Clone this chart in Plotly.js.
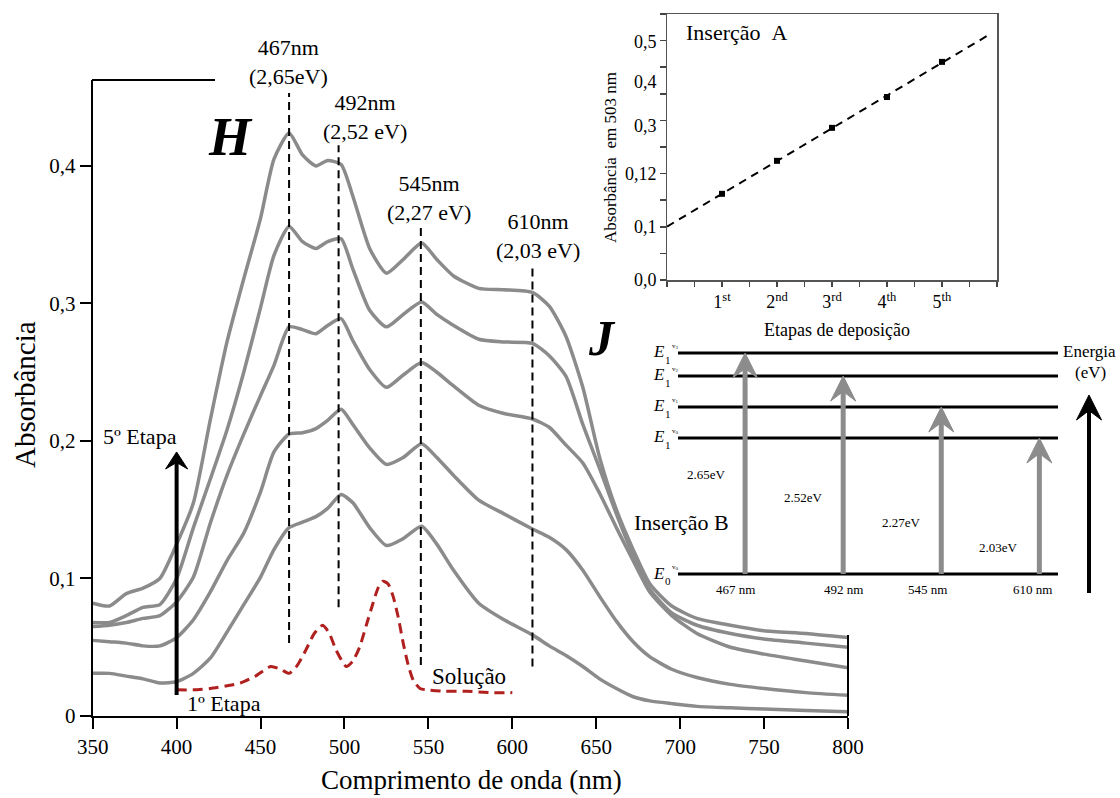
<!DOCTYPE html>
<html>
<head>
<meta charset="utf-8">
<script src="https://cdn.plot.ly/plotly-3.0.1.min.js"></script>
<style>html,body{margin:0;padding:0;background:#fff}#chart{width:1120px;height:798px}</style>
</head>
<body>
<div id="chart"></div>
<script>
// ---------------- DATA ----------------
const wavelength = [350,360,370,380,390,400,410,420,430,440,450,458,467,475,483,490,498,505,515,525,535,546,555,565,580,595,612,622,632,642,652,662,672,682,695,710,730,750,775,800];
const etapa5 = [.082,.080,.089,.093,.100,.125,.155,.215,.272,.318,.362,.405,.424,.408,.400,.404,.401,.378,.340,.322,.332,.344,.332,.320,.311,.310,.308,.298,.276,.239,.188,.150,.121,.096,.080,.071,.066,.062,.060,.057];
const etapa4 = [.068,.068,.073,.079,.081,.100,.137,.172,.208,.250,.297,.335,.356,.345,.340,.345,.347,.325,.295,.283,.292,.301,.292,.284,.274,.272,.271,.262,.247,.212,.180,.147,.117,.092,.075,.066,.060,.056,.053,.050];
const etapa3 = [.065,.066,.068,.071,.073,.083,.101,.140,.175,.205,.233,.255,.283,.281,.278,.284,.289,.273,.252,.239,.248,.257,.250,.240,.226,.220,.216,.210,.197,.184,.162,.137,.113,.090,.073,.060,.050,.045,.040,.035];
const etapa2 = [.055,.054,.053,.051,.051,.057,.070,.090,.113,.133,.163,.192,.205,.206,.209,.215,.223,.212,.195,.183,.188,.198,.188,.175,.157,.147,.136,.130,.121,.106,.087,.069,.054,.043,.034,.028,.023,.020,.017,.015];
const etapa1 = [.031,.031,.029,.027,.024,.025,.031,.042,.061,.081,.101,.121,.137,.141,.145,.151,.161,.155,.137,.124,.129,.138,.125,.106,.082,.070,.059,.051,.044,.036,.027,.020,.014,.011,.009,.007,.006,.005,.004,.003];

const solucaoWl  = [400,410,420,430,438,447,456,462,467,472,477,482,487,491,495,501,505,509,513,517,520,523,526,529,532,535,538,541,545,549,560,573,587,600];
const solucaoAbs = [.019,.019,.020,.022,.024,.029,.036,.034,.031,.037,.048,.060,.066,.060,.048,.036,.040,.050,.066,.082,.093,.098,.096,.087,.072,.053,.037,.026,.020,.019,.018,.018,.017,.017];

const peakNm     = [467, 496.5, 545.5, 612];
const peakTop    = [0.453, 0.415, 0.356, 0.327];
const peakBottom = [0.053, 0.079, 0.037, 0.036];
const peakLabels = ['467nm<br>(2,65eV)', '492nm<br>(2,52 eV)', '545nm<br>(2,27 eV)', '610nm<br>(2,03 eV)'];

const mainXTicks = [350,400,450,500,550,600,650,700,750,800];
const mainYTicks = [0, 0.1, 0.2, 0.3, 0.4];
const mainYTickText = ['0', '0,1', '0,2', '0,3', '0,4'];

// arrow 1ª -> 5ª etapa (x in nm, y in absorbance)
const etapaArrow = {x: 400, from: 0.0153, to: 0.192};

// Inserção A
const etapasA = [1, 2, 3, 4, 5];
const abs503  = [0.162, 0.224, 0.286, 0.344, 0.410];
const insetAXLabels = ['1<sup>st</sup>', '2<sup>nd</sup>', '3<sup>rd</sup>', '4<sup>th</sup>', '5<sup>th</sup>'];
const insetAYLabels = ['0,0', '0,1', '0,12', '0,3', '0,4', '0,5'];
const insetAYLabelAt = [0, 0.1, 0.2, 0.29, 0.372, 0.447];
const fitExtent = [0, 5.82];

// Inserção B (diagrama de energia)
const levelSub = ['0', '1', '1', '1', '1'];
const levelSup = ['0', '0', '1', '2', '3'];
const levelHeight = [0, 136, 167, 198, 221];
const transSlot  = [1, 2, 3, 4];
const transLevel = [4, 3, 2, 1];
const transEv    = ['2.65eV', '2.52eV', '2.27eV', '2.03eV'];
const transNm    = ['467 nm', '492 nm', '545 nm', '610 nm'];

// ---------------- LAYOUT HELPERS ----------------
const W = 1120, H = 798;
const px = x => x / W;
const py = y => 1 - y / H;
const FONT = 'Liberation Serif, Times New Roman, serif';
const GRAY = '#8b8b8b';

const traces = [];
[etapa1, etapa2, etapa3, etapa4, etapa5].forEach((vals, i) => {
  traces.push({x: wavelength, y: vals, type: 'scatter', mode: 'lines', name: (i + 1) + 'º Etapa',
    line: {color: GRAY, width: 3.5, shape: 'spline', smoothing: 0.6}, xaxis: 'x', yaxis: 'y', hoverinfo: 'skip'});
});
traces.push({x: solucaoWl, y: solucaoAbs, type: 'scatter', mode: 'lines', name: 'Solução',
  line: {color: '#b0201e', width: 3, dash: '10px,6px', shape: 'spline', smoothing: 0.6}, xaxis: 'x', yaxis: 'y'});
peakNm.forEach((nm, i) => {
  traces.push({x: [nm, nm], y: [peakBottom[i], peakTop[i]], type: 'scatter', mode: 'lines',
    line: {color: '#000', width: 2, dash: '8px,5px'}, xaxis: 'x', yaxis: 'y'});
});

// Inset A: least-squares fit
const n = etapasA.length;
const mx = etapasA.reduce((a, b) => a + b, 0) / n;
const my = abs503.reduce((a, b) => a + b, 0) / n;
let sxy = 0, sxx = 0;
for (let i = 0; i < n; i++) { sxy += (etapasA[i] - mx) * (abs503[i] - my); sxx += (etapasA[i] - mx) ** 2; }
const slope = sxy / sxx, intercept = my - slope * mx;
traces.push({x: fitExtent, y: fitExtent.map(v => intercept + slope * v), type: 'scatter', mode: 'lines',
  line: {color: '#000', width: 2, dash: '8px,6px'}, xaxis: 'x2', yaxis: 'y2'});
traces.push({x: etapasA, y: abs503, type: 'scatter', mode: 'markers',
  marker: {symbol: 'square', size: 6, color: '#000'}, xaxis: 'x2', yaxis: 'y2'});

// Inset B: energy levels
const x3range = [0.316, 4.19];
levelHeight.forEach(h => {
  traces.push({x: x3range, y: [h, h], type: 'scatter', mode: 'lines',
    line: {color: '#000', width: 3}, xaxis: 'x3', yaxis: 'y3'});
});

// ---------------- SHAPES (frame bits & arrows) ----------------
const headPath = (w, h) => `M 0 0 L ${-w} ${-h} L 0 ${-h * 0.62} L ${w} ${-h} Z`;
const shapes = [
  {type: 'line', xref: 'paper', yref: 'paper', x0: px(92), x1: px(215), y0: py(80), y1: py(80), line: {color: '#000', width: 2}},
  {type: 'line', xref: 'paper', yref: 'paper', x0: px(848), x1: px(848), y0: py(635), y1: py(716), line: {color: '#000', width: 2}}
];
// 1ª -> 5ª etapa arrow
shapes.push({type: 'line', xref: 'x', yref: 'y', x0: etapaArrow.x, x1: etapaArrow.x, y0: etapaArrow.from, y1: etapaArrow.to - 0.006,
  line: {color: '#000', width: 4}});
shapes.push({type: 'path', xref: 'x', yref: 'y', xsizemode: 'pixel', ysizemode: 'pixel', xanchor: etapaArrow.x, yanchor: etapaArrow.to,
  path: headPath(11, 17), fillcolor: '#000', line: {color: '#000', width: 1}});
// transitions
transSlot.forEach((s, i) => {
  const top = levelHeight[transLevel[i]];
  shapes.push({type: 'line', xref: 'x3', yref: 'y3', x0: s, x1: s, y0: 0, y1: top - 10, line: {color: '#8c8c8c', width: 5}});
  shapes.push({type: 'path', xref: 'x3', yref: 'y3', xsizemode: 'pixel', ysizemode: 'pixel', xanchor: s, yanchor: top,
    path: headPath(12.5, 25), fillcolor: '#8c8c8c', line: {color: '#8c8c8c', width: 1}});
});
// energy axis arrow
shapes.push({type: 'line', xref: 'paper', yref: 'paper', x0: px(1089), x1: px(1089), y0: py(593), y1: py(405), line: {color: '#000', width: 4}});
shapes.push({type: 'path', xref: 'paper', yref: 'paper', xsizemode: 'pixel', ysizemode: 'pixel', xanchor: px(1089), yanchor: py(395),
  path: headPath(12.5, 25), fillcolor: '#000', line: {color: '#000', width: 1}});

// ---------------- ANNOTATIONS ----------------
const annotations = [];
const txt = (text, x, y, size, extra) => Object.assign({text: text, x: px(x), y: py(y), xref: 'paper', yref: 'paper',
  showarrow: false, font: {family: FONT, size: size, color: '#000'}, xanchor: 'center', yanchor: 'middle'}, extra || {});

annotations.push(txt('Absorbância', 25, 395, 29, {textangle: -90}));
annotations.push(txt('Comprimento de onda (nm)', 471, 780, 27));
const peakLabelPos = [[288, 62], [365, 117], [429, 198], [538, 236]];
peakLabels.forEach((t, i) => annotations.push(txt(t, peakLabelPos[i][0], peakLabelPos[i][1], 22)));
annotations.push(txt('<b><i>H</i></b>', 230, 137, 54));
annotations.push(txt('<b><i>J</i></b>', 602, 338, 50));
annotations.push(txt('5º Etapa', 140, 436, 22));
annotations.push(txt('1º Etapa', 224, 703, 22));
annotations.push(txt('Solução', 469, 676, 23));

annotations.push(txt('Inserção\u00A0\u00A0A', 737, 33, 22));
annotations.push(txt('Absorbância\u00A0\u00A0em 503 nm', 610, 158, 17, {textangle: -90}));
annotations.push(txt('Etapas de deposição', 837, 330, 18));
insetAYLabels.forEach((t, i) => annotations.push({text: t, x: px(659), xref: 'paper', y: insetAYLabelAt[i], yref: 'y2',
  showarrow: false, xanchor: 'right', yanchor: 'middle', font: {family: FONT, size: 18, color: '#000'}}));

levelHeight.forEach((h, i) => {
  annotations.push({text: '<i>E</i>', x: px(659), xref: 'paper', y: h, yref: 'y3', yshift: 1, showarrow: false,
    xanchor: 'center', yanchor: 'middle', font: {family: FONT, size: 17, color: '#000'}});
  annotations.push({text: levelSub[i], x: px(668), xref: 'paper', y: h, yref: 'y3', yshift: -7, showarrow: false,
    xanchor: 'center', yanchor: 'middle', font: {family: FONT, size: 11, color: '#000'}});
  annotations.push({text: 'v<sub>' + levelSup[i] + '</sub>', x: px(675), xref: 'paper', y: h, yref: 'y3', yshift: 7, showarrow: false,
    xanchor: 'center', yanchor: 'middle', font: {family: FONT, size: 7, color: '#000'}});
});
const evShift = [-39, -40, -40, -41];
const evHeight = [99, 76, 52, 27];
const nmShift = [-10, 0, -14, -7];
transSlot.forEach((s, i) => {
  annotations.push({text: transEv[i], x: s, xref: 'x3', xshift: evShift[i], y: evHeight[i], yref: 'y3', showarrow: false,
    font: {family: FONT, size: 13, color: '#000'}});
  annotations.push({text: transNm[i], x: s, xref: 'x3', xshift: nmShift[i], y: 0, yref: 'y3', yshift: -15, showarrow: false,
    font: {family: FONT, size: 13, color: '#000'}});
});
annotations.push(txt('Inserção B', 682, 522, 22));
annotations.push(txt('Energia', 1089, 351, 17));
annotations.push(txt('(eV)', 1090, 372, 17));

const axisFont = {family: FONT, size: 21, color: '#000'};
const layout = {
  width: W, height: H, margin: {l: 0, r: 0, t: 0, b: 0, pad: 0},
  paper_bgcolor: '#fff', plot_bgcolor: 'rgba(0,0,0,0)', showlegend: false,
  font: {family: FONT, color: '#000'},
  xaxis: {domain: [px(92.7), px(848)], range: [350, 800], anchor: 'y', tickvals: mainXTicks,
    ticks: 'outside', ticklen: 11, tickwidth: 2, tickcolor: '#000', showline: true, linewidth: 2, linecolor: '#000',
    showgrid: false, zeroline: false, tickfont: axisFont},
  yaxis: {domain: [py(716), py(80)], range: [0, 0.4625], anchor: 'x', tickvals: mainYTicks, ticktext: mainYTickText,
    ticks: 'outside', ticklen: 11, tickwidth: 2, tickcolor: '#000', showline: true, linewidth: 2, linecolor: '#000',
    showgrid: false, zeroline: false, tickfont: axisFont},
  xaxis2: {domain: [px(667), px(997)], range: [0, 6], anchor: 'y2',
    tickvals: etapasA, ticktext: insetAXLabels,
    ticks: 'outside', ticklen: 5, tickwidth: 1.5, tickcolor: '#444',
    minor: {dtick: 0.5, tick0: 0, ticks: 'outside', ticklen: 5, tickwidth: 1.5, tickcolor: '#444', showgrid: false},
    showline: true, mirror: true, linewidth: 1.5, linecolor: '#555',
    showgrid: false, zeroline: false, tickfont: {family: FONT, size: 18, color: '#000'}},
  yaxis2: {domain: [py(280), py(14)], range: [0, 0.5], anchor: 'x2', dtick: 0.05, tick0: 0, showticklabels: false,
    ticks: 'outside', ticklen: 6, tickwidth: 1.5, tickcolor: '#444', showline: true, mirror: true, linewidth: 1.5, linecolor: '#555',
    showgrid: false, zeroline: false},
  xaxis3: {domain: [px(678), px(1058)], range: x3range, anchor: 'y3', visible: false},
  yaxis3: {domain: [py(580), py(345)], range: [-6, 229], anchor: 'x3', visible: false},
  shapes: shapes,
  annotations: annotations
};

Plotly.newPlot('chart', traces, layout, {displayModeBar: false, staticPlot: true});
</script>
</body>
</html>
